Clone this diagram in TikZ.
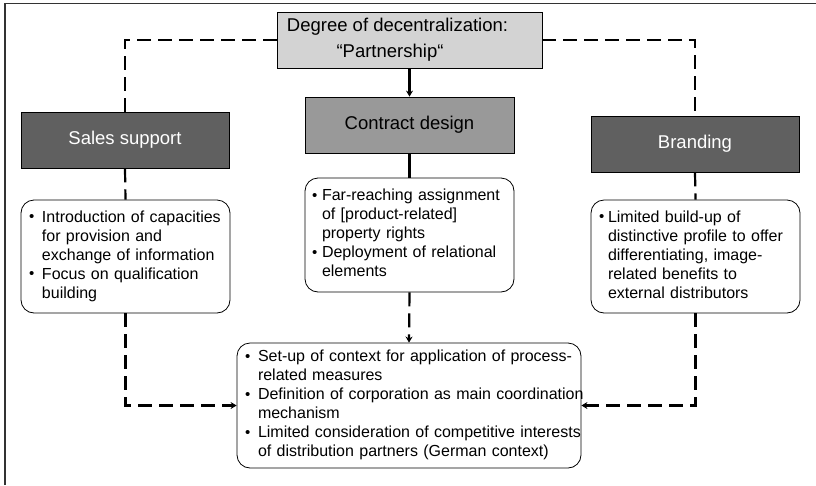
\documentclass[tikz,border=0pt]{standalone}
\usepackage{fontspec}
\setmainfont{Liberation Sans}
\usetikzlibrary{arrows.meta}

\definecolor{boxlight}{HTML}{D3D3D3}
\definecolor{boxmid}{HTML}{999999}
\definecolor{boxdark}{HTML}{606060}

% bullet list with fixed line breaks: #1 = indent of the text, #2 = rows
\newcommand\blist[2]{\begin{tabular}{@{}p{#1}@{}l@{}}#2\end{tabular}}
\newcommand\bul{\raisebox{0.05em}{\fontsize{15}{15}\selectfont •}}

\begin{document}
\begin{tikzpicture}[x=1pt,y=-1pt,
  headbox/.style={draw, line width=0.8pt, inner sep=0pt,
    minimum width=208pt, minimum height=56pt,
    font=\fontsize{18.5}{26}\selectfont},
  darkhead/.style={headbox, fill=boxdark, text=white},
  listbox/.style={draw, line width=0.8pt, rounded corners=13pt, fill=white,
    inner xsep=8pt, inner ysep=0pt, minimum width=209pt, minimum height=113pt,
    text width=193pt, align=left, font=\fontsize{16}{19}\selectfont},
  link/.style={line width=2.2pt},
  dashlink/.style={line width=2.2pt, dash pattern=on 14pt off 7pt},
  tip/.style={-{Stealth[length=6pt,width=7pt]}}
]
\useasboundingbox (0,0) rectangle (816,485);

% outer frame (only its top and left edges fall inside the page)
\draw[line width=1.3pt, black!80] (5,485) -- (5,3.5) -- (816,3.5);

% headings
\node[headbox, fill=boxlight, minimum width=265pt, align=center] (top) at (409.5,40)
  {Degree of decentralization:\hspace*{24pt}\\“Partnership“\hspace*{39pt}};
\node[darkhead] (sales) at (125,140) {Sales support};
\node[headbox, fill=boxmid, minimum width=209pt] (contract) at (409.5,125) {Contract design};
\node[darkhead] (brand) at (695,144) {Branding};

% measure lists
\node[listbox] (sbox) at (125.5,256.5) {\blist{13pt}{%
  \bul & Introduction of capacities\\
       & for provision and\\
       & exchange of information\\
  \bul & Focus on qualification\\
       & building}};
\node[listbox, minimum height=114pt, inner xsep=7pt, text width=195pt] (cbox) at (409.5,235) {\blist{10pt}{%
  \bul & Far-reaching assignment\\
       & of [product-related]\\
       & property rights\\
  \bul & Deployment of relational\\
       & elements}};
\node[listbox] (bbox) at (695.5,256.5) {\blist{9pt}{%
  \bul & Limited build-up of\\
       & distinctive profile to offer\\
       & differentiating, image-\\
       & related benefits to\\
       & external distributors}};
\node[listbox, minimum width=344pt, minimum height=125pt, text width=328pt] (result) at (409,405.5) {\blist{13pt}{%
  \bul & Set-up of context for application of process-\\
       & related measures\\
  \bul & Definition of corporation as main coordination\\
       & mechanism\\
  \bul & Limited consideration of competitive interests\\
       & of distribution partners (German context)}};

% connectors
\draw[dashlink] (top.west) -| (sales.north);
\draw[dashlink] (top.east) -| (brand.north);
\draw[link, tip] (top.south) -- (contract.north);
\draw[link] (contract.south) -- (cbox.north);
\draw[dashlink] (sales.south) -- (sbox.north);
\draw[dashlink] (brand.south) -- (bbox.north);
\draw[dashlink, tip] (cbox.south) -- (result.north);
\draw[dashlink, tip] (sbox.south) |- (result.west);
\draw[dashlink, tip] (bbox.south) |- (result.east);
\end{tikzpicture}
\end{document}
